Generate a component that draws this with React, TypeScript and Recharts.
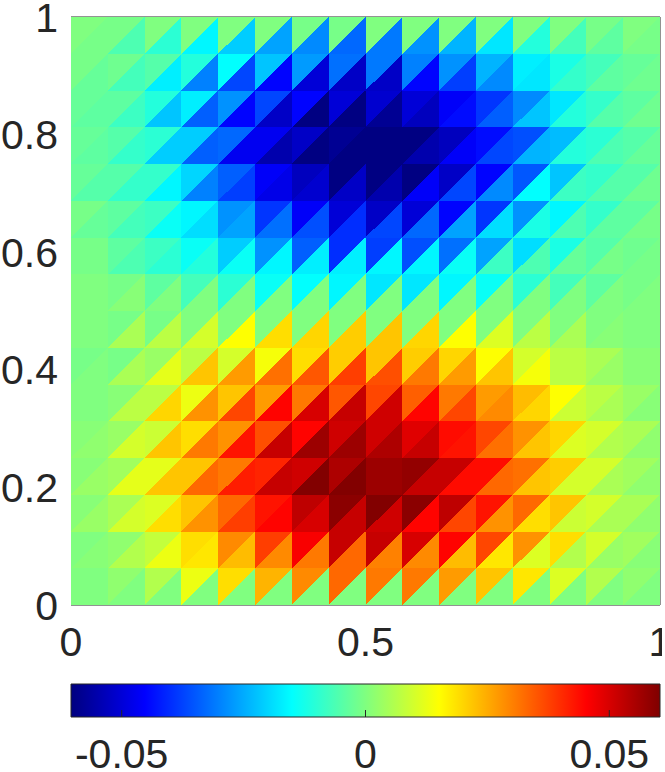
import React from "react";
import {
  ScatterChart,
  Scatter,
  XAxis,
  YAxis,
  ReferenceLine,
  ReferenceArea,
} from "recharts";

// Values in thousandths, rows from top (y=1) to bottom (y=0), columns from x=0 to x=1.
// Each grid cell is split by its "/" diagonal into an upper-left and a lower-right triangle.
const upperLeftValues: number[][] = [
  [0, -1, 0, 0, 0, 0, -1, -1, 0, 0, 0, 0, 0, 0, -1, 0],
  [-1, -2, -5, -11, -15, -22, -27, -32, -31, -30, -28, -24, -17, -12, -7, -3],
  [-3, -4, -11, -17, -28, -37, -45, -50, -51, -50, -46, -39, -29, -18, -9, -4],
  [-3, -5, -10, -21, -33, -47, -52, -58, -60, -60, -53, -44, -36, -23, -10, -5],
  [-3, -5, -9, -20, -34, -46, -53, -60, -60, -60, -52, -45, -35, -22, -9, -5],
  [-1, -4, -8, -16, -28, -39, -46, -50, -52, -50, -45, -39, -28, -16, -9, -4],
  [-1, -4, -8, -14, -21, -28, -34, -40, -38, -36, -32, -26, -19, -12, -5, -2],
  [0, -1, -4, -7, -10, -14, -15, -16, -18, -18, -16, -14, -10, -7, -4, -1],
  [0, -1, -1, 0, 0, 0, 0, 0, 0, 0, 0, 0, 0, 0, 0, 0],
  [-1, -1, 3, 7, 10, 14, 19, 21, 22, 21, 20, 15, 10, 7, 5, 1],
  [0, 1, 7, 13, 22, 27, 31, 35, 37, 34, 31, 27, 23, 15, 7, 3],
  [1, 3, 9, 19, 28, 36, 45, 51, 51, 49, 44, 37, 28, 20, 10, 5],
  [1, 4, 12, 22, 31, 41, 51, 55, 57, 58, 52, 44, 32, 21, 10, 4],
  [1, 5, 11, 22, 33, 43, 53, 59, 60, 59, 53, 43, 33, 22, 10, 5],
  [0, 2, 8, 19, 29, 38, 46, 52, 52, 50, 45, 37, 28, 19, 10, 4],
  [0, 2, 6, 13, 19, 24, 29, 33, 31, 31, 27, 22, 18, 11, 6, 2],
];

const lowerRightValues: number[][] = [
  [-1, -6, -10, -16, -21, -26, -29, -33, -31, -28, -24, -18, -11, -7, -4, -1],
  [-3, -7, -17, -30, -37, -45, -50, -52, -52, -45, -38, -29, -18, -9, -4, -2],
  [-4, -8, -22, -34, -45, -52, -60, -60, -58, -53, -44, -34, -22, -11, -5, -2],
  [-4, -9, -21, -34, -47, -55, -60, -60, -60, -55, -46, -37, -24, -11, -6, -3],
  [-5, -9, -16, -30, -38, -48, -51, -52, -55, -46, -37, -29, -15, -8, -5, -2],
  [-3, -7, -14, -19, -26, -32, -36, -40, -37, -33, -26, -19, -12, -6, -4, -1],
  [-1, -6, -10, -11, -14, -16, -17, -17, -16, -16, -14, -8, -6, -3, -1, -1],
  [0, 1, 0, 0, 0, 0, 0, 0, 0, 0, 0, 0, 0, 0, 0, 0],
  [0, 5, 7, 10, 15, 19, 20, 21, 22, 20, 15, 11, 7, 5, 1, 0],
  [0, 5, 12, 22, 27, 32, 35, 38, 36, 31, 27, 22, 14, 7, 3, 1],
  [0, 7, 20, 28, 37, 45, 50, 52, 51, 45, 37, 29, 20, 9, 5, 1],
  [2, 10, 22, 31, 43, 52, 57, 57, 55, 52, 43, 32, 22, 11, 6, 2],
  [3, 12, 22, 33, 42, 52, 60, 60, 57, 52, 44, 33, 22, 10, 5, 2],
  [3, 10, 19, 28, 38, 45, 50, 52, 51, 45, 37, 28, 19, 9, 5, 2],
  [1, 6, 13, 18, 23, 29, 31, 33, 30, 29, 23, 18, 11, 6, 3, 1],
  [0, 0, 0, 0, 0, 0, 0, 0, 0, 0, 0, 0, 0, 0, 0, 0],
];

const xTicks = [0, 0.5, 1];
const yTicks = [0, 0.2, 0.4, 0.6, 0.8, 1];
const colorTicks = [-0.05, 0, 0.05];
const colorLimit = 0.0604;

const jetStops = [
  [0, "#00007f"],
  [0.125, "#0000ff"],
  [0.375, "#00ffff"],
  [0.625, "#ffff00"],
  [0.875, "#ff0000"],
  [1, "#7f0000"],
] as const;

function hexToRgb(h: string) {
  return [1, 3, 5].map((i) => parseInt(h.slice(i, i + 2), 16));
}

function jet(value: number) {
  const t = Math.max(0, Math.min(1, value / (2 * colorLimit) + 0.5));
  for (let i = 1; i < jetStops.length; i++) {
    const [t1, c1] = jetStops[i];
    if (t <= t1) {
      const [t0, c0] = jetStops[i - 1];
      const f = (t - t0) / (t1 - t0);
      const a = hexToRgb(c0);
      const b = hexToRgb(c1);
      const m = a.map((v, k) => Math.round(v + (b[k] - v) * f));
      return `rgb(${m[0]},${m[1]},${m[2]})`;
    }
  }
  return "#7f0000";
}

const N = upperLeftValues.length;
const triangles: { x: number; y: number; v: number; kind: string }[] = [];
upperLeftValues.forEach((row, r) =>
  row.forEach((v, c) =>
    triangles.push({ x: (c + 0.5) / N, y: 1 - (r + 0.5) / N, v: v / 1000, kind: "upper" })
  )
);
lowerRightValues.forEach((row, r) =>
  row.forEach((v, c) =>
    triangles.push({ x: (c + 0.5) / N, y: 1 - (r + 0.5) / N, v: v / 1000, kind: "lower" })
  )
);
const colorTickPoints = colorTicks.map((t) => ({ x: t, y: 0 }));

const plotLeft = 71;
const plotRight = 660;
const plotTop = 17;
const plotBottom = 605;
const halfW = (plotRight - plotLeft) / N / 2;
const halfH = (plotBottom - plotTop) / N / 2;

function Triangle(props: any) {
  const { cx, cy, payload } = props;
  const color = jet(payload.v);
  const l = cx - halfW;
  const r = cx + halfW;
  const t = cy - halfH;
  const b = cy + halfH;
  const pts =
    payload.kind === "upper"
      ? `${l},${b} ${l},${t} ${r},${t}`
      : `${l},${b} ${r},${b} ${r},${t}`;
  return <polygon points={pts} fill={color} shapeRendering="crispEdges" />;
}

const ink = "#262626";

function InnerTick(props: any) {
  const { cx, cy } = props;
  return <line x1={cx} x2={cx} y1={cy} y2={cy - 7} stroke={ink} strokeWidth={1} />;
}

const tickFont = { fontFamily: "Liberation Sans, Arial, sans-serif", fontSize: 41, fill: ink };

export default function App() {
  return (
    <div style={{ position: "absolute", left: 0, top: 0, width: 662, height: 772, overflow: "hidden", background: "#fff" }}>
      <div style={{ position: "absolute", left: 0, top: 0 }}>
        <ScatterChart
          width={665}
          height={665}
          margin={{ left: 0, right: 5, top: plotTop, bottom: 0 }}
        >
          <XAxis
            type="number"
            dataKey="x"
            domain={[0, 1]}
            ticks={xTicks}
            interval={0}
            height={60}
            tick={tickFont}
            tickLine={false}
            tickMargin={16}
            axisLine={{ stroke: ink, strokeWidth: 1 }}
            tickFormatter={(v: number) => String(v)}
          />
          <YAxis
            type="number"
            dataKey="y"
            domain={[0, 1]}
            ticks={yTicks}
            interval={0}
            width={plotLeft}
            tick={tickFont}
            tickLine={false}
            tickMargin={7}
            axisLine={false}
            tickFormatter={(v: number) => String(v)}
          />
          <Scatter data={triangles} isAnimationActive={false} shape={Triangle} />
          <ReferenceLine y={1} stroke={ink} strokeWidth={1} />
          <ReferenceLine x={1} stroke={ink} strokeWidth={1} />
        </ScatterChart>
      </div>
      <div style={{ position: "absolute", left: 0, top: 660 }}>
        <ScatterChart
          width={665}
          height={112}
          margin={{ left: plotLeft, right: 5, top: 24, bottom: 0 }}
        >
          <defs>
            <linearGradient id="jetGradient" x1="0" x2="1" y1="0" y2="0">
              {jetStops.map(([t, c]) => (
                <stop key={t} offset={t} stopColor={c} />
              ))}
            </linearGradient>
          </defs>
          <XAxis
            type="number"
            dataKey="x"
            domain={[-colorLimit, colorLimit]}
            ticks={colorTicks}
            interval={0}
            height={55}
            tick={tickFont}
            tickLine={false}
            tickMargin={16}
            axisLine={false}
            tickFormatter={(v: number) => String(v)}
          />
          <YAxis type="number" dataKey="y" domain={[0, 1]} hide width={0} />
          <ReferenceArea
            x1={-colorLimit}
            x2={colorLimit}
            y1={0}
            y2={1}
            fill="url(#jetGradient)"
            fillOpacity={1}
            stroke={ink}
            strokeWidth={1}
          />
          <Scatter data={colorTickPoints} isAnimationActive={false} shape={InnerTick} />
        </ScatterChart>
      </div>
    </div>
  );
}
